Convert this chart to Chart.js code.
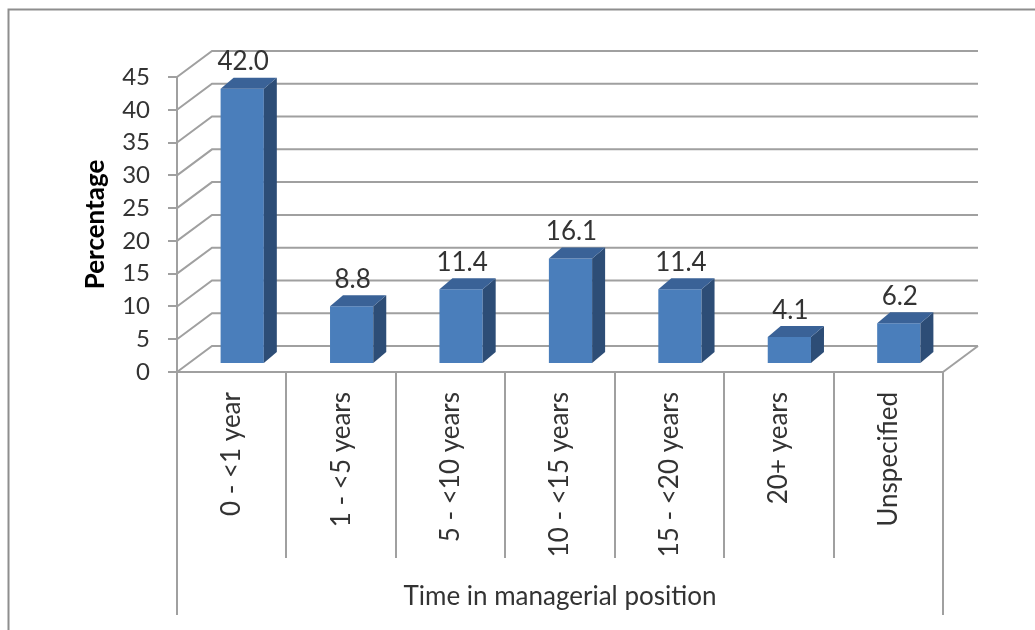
<!DOCTYPE html>
<html>
<head>
<meta charset="utf-8">
<script src="https://cdn.jsdelivr.net/npm/chart.js@4/dist/chart.umd.min.js"></script>
<style>
  html, body { margin: 0; padding: 0; background: #ffffff; }
  #wrap { width: 1035px; height: 630px; }
</style>
</head>
<body>
<div id="wrap"><canvas id="c" width="1035" height="630"></canvas></div>
<script>
// Time in managerial position (percentage of respondents)
const categories = ['0 - <1 year', '1 - <5 years', '5 - <10 years', '10 - <15 years', '15 - <20 years', '20+ years', 'Unspecified'];
const percentages = [42.0, 8.8, 11.4, 16.1, 11.4, 4.1, 6.2];
const yTicks = [0, 5, 10, 15, 20, 25, 30, 35, 40, 45];

const FONT = 'Lato, "Liberation Sans", sans-serif';
const TEXT = '#333333';
const LINE = '#a0a0a0';

// pseudo-3D projection: wall depth and bar placement inside it
const WALL_DX = 35, WALL_DY = -26;
const BAR_SHIFT_X = 10.5, BAR_SHIFT_Y = -8;
const BAR_DX = 13, BAR_DY = -11;

const box3d = {
  id: 'box3d',
  beforeDatasetsDraw(chart) {
    const { ctx, chartArea: a, scales: { x, y } } = chart;
    ctx.save();
    ctx.lineWidth = 2;

    // outer frame
    ctx.beginPath();
    ctx.moveTo(8.5, 630); ctx.lineTo(8.5, 9.5); ctx.lineTo(1035, 9.5);
    ctx.strokeStyle = '#8e8e8e';
    ctx.stroke();
    ctx.strokeStyle = LINE;

    // back wall gridlines with their side-wall diagonals
    yTicks.forEach(v => {
      const py = y.getPixelForValue(v);
      ctx.beginPath();
      ctx.moveTo(a.left, py);
      ctx.lineTo(a.left + WALL_DX, py + WALL_DY);
      ctx.lineTo(a.right + WALL_DX, py + WALL_DY);
      ctx.stroke();
    });
    // floor right edge
    const p0 = y.getPixelForValue(0);
    ctx.beginPath();
    ctx.moveTo(a.right, p0);
    ctx.lineTo(a.right + WALL_DX, p0 + WALL_DY);
    ctx.stroke();

    // category divider boxes below the floor
    const n = categories.length;
    const half = (x.getPixelForValue(1) - x.getPixelForValue(0)) / 2;
    for (let i = 1; i < n; i++) {
      const px = Math.round(x.getPixelForValue(i) - half);
      ctx.beginPath();
      ctx.moveTo(px, p0); ctx.lineTo(px, 558);
      ctx.stroke();
    }
    [x.getPixelForValue(0) - half, x.getPixelForValue(n - 1) + half].forEach(px => {
      ctx.beginPath();
      ctx.moveTo(Math.round(px), p0); ctx.lineTo(Math.round(px), 615);
      ctx.stroke();
    });
    ctx.restore();

    // bars sit partway into the depth of the floor
    ctx.save();
    ctx.translate(BAR_SHIFT_X, BAR_SHIFT_Y);
  },
  afterDatasetsDraw(chart) {
    const { ctx } = chart;
    ctx.restore();
    const meta = chart.getDatasetMeta(0);
    ctx.save();
    meta.data.forEach((el, i) => {
      const { x, y, base, width } = el.getProps(['x', 'y', 'base', 'width'], true);
      const l = x - width / 2 + BAR_SHIFT_X, r = x + width / 2 + BAR_SHIFT_X;
      const t = y + BAR_SHIFT_Y, b = base + BAR_SHIFT_Y;
      // side face
      ctx.fillStyle = '#2d4d76';
      ctx.beginPath();
      ctx.moveTo(r, b); ctx.lineTo(r + BAR_DX, b + BAR_DY);
      ctx.lineTo(r + BAR_DX, t + BAR_DY); ctx.lineTo(r, t);
      ctx.closePath(); ctx.fill();
      // top face
      ctx.fillStyle = '#3a6297';
      ctx.beginPath();
      ctx.moveTo(l, t); ctx.lineTo(l + BAR_DX, t + BAR_DY);
      ctx.lineTo(r + BAR_DX, t + BAR_DY); ctx.lineTo(r, t);
      ctx.closePath(); ctx.fill();
      // value label
      ctx.fillStyle = TEXT;
      ctx.font = '26px ' + FONT;
      ctx.textAlign = 'center';
      ctx.textBaseline = 'middle';
      ctx.fillText(percentages[i].toFixed(1), x + BAR_SHIFT_X + 1, t + BAR_DY - 16);
    });
    ctx.restore();
  }
};

new Chart(document.getElementById('c'), {
  type: 'bar',
  data: {
    labels: categories,
    datasets: [{
      data: percentages,
      backgroundColor: '#4a7ebb',
      borderWidth: 0,
      barPercentage: 0.395,
      categoryPercentage: 1
    }]
  },
  options: {
    responsive: false,
    animation: false,
    devicePixelRatio: 1,
    layout: { padding: { left: 0, top: 77, right: 92, bottom: 0 } },
    plugins: { legend: { display: false }, tooltip: { enabled: false } },
    scales: {
      x: {
        type: 'category',
        offset: true,
        grid: { display: false, drawTicks: false },
        border: { display: true, color: LINE, width: 2 },
        ticks: {
          autoSkip: false,
          minRotation: 90,
          maxRotation: 90,
          padding: 20,
          color: TEXT,
          font: { family: FONT, size: 26 }
        },
        title: {
          display: true,
          text: 'Time in managerial position',
          color: TEXT,
          font: { family: FONT, size: 26 },
          padding: { top: 0, bottom: 18 }
        },
        afterFit(s) { s.height = 258; }
      },
      y: {
        min: 0,
        max: 45,
        afterBuildTicks(s) { s.ticks = yTicks.map(v => ({ value: v })); },
        grid: { drawOnChartArea: false, drawTicks: true, tickLength: 9, color: LINE, lineWidth: 2 },
        border: { display: true, color: LINE, width: 2 },
        ticks: {
          padding: 18,
          color: TEXT,
          font: { family: FONT, size: 24 }
        },
        title: {
          display: true,
          text: 'Percentage',
          color: '#000000',
          font: { family: FONT, size: 26, weight: 'bold' },
          padding: { top: 80, bottom: 0 }
        },
        afterFit(s) { s.width = 177; }
      }
    }
  },
  plugins: [box3d]
});
</script>
</body>
</html>
